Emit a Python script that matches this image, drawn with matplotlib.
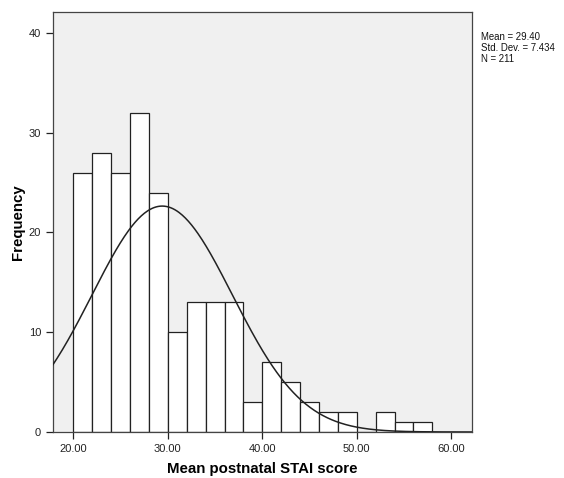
import numpy as np
import matplotlib
matplotlib.use("Agg")
import matplotlib.pyplot as plt

plt.rcParams['font.family'] = ['Liberation Sans', 'DejaVu Sans']

# Histogram bins (width 2.00) and frequencies
bin_edges = [20, 22, 24, 26, 28, 30, 32, 34, 36, 38, 40, 42, 44, 46, 48, 50, 52, 54, 56, 58]
counts = [26, 28, 26, 32, 24, 10, 13, 13, 13, 3, 7, 5, 3, 2, 2, 0, 2, 1, 1]

mean = 29.40
std_dev = 7.434
n = 211

x_ticks = [20, 30, 40, 50, 60]
x_tick_labels = ["20.00", "30.00", "40.00", "50.00", "60.00"]
y_ticks = [0, 10, 20, 30, 40]

fig = plt.figure(figsize=(5.64, 4.78), dpi=100)
ax = fig.add_axes([53/564, 46/478, (472-53)/564, (432-12)/478])
ax.set_facecolor('#F0F0F0')

lefts = np.array(bin_edges[:-1])
widths = np.diff(bin_edges)
ax.bar(lefts, counts, width=widths, align='edge', color='white',
       edgecolor='#222222', linewidth=0.9, zorder=2)

# Normal curve scaled to the histogram
xs = np.linspace(17.84, 62.2, 400)
bw = widths[0]
ys = n * bw / (std_dev * np.sqrt(2 * np.pi)) * np.exp(-0.5 * ((xs - mean) / std_dev) ** 2)
ax.plot(xs, ys, color='#222222', linewidth=1.1, zorder=3)

ax.set_xlim(17.84, 62.2)
ax.set_ylim(0, 42.1)
ax.set_xticks(x_ticks)
ax.set_xticklabels(x_tick_labels)
ax.set_yticks(y_ticks)
ax.tick_params(axis='both', labelsize=8, length=5, width=0.9, color='#222222', labelcolor='#222222', direction='out')
for s in ax.spines.values():
    s.set_color('#444444')
    s.set_linewidth(0.9)

ax.set_xlabel('Mean postnatal STAI score', fontsize=10.8, fontweight='bold', labelpad=6)
ax.set_ylabel('Frequency', fontsize=10.8, fontweight='bold', labelpad=3)

fig.text(481/564, 1 - 32/478, f"Mean = {mean:.2f}\nStd. Dev. = {std_dev:.3f}\nN = {n}",
         fontsize=6.9, va='top', ha='left', linespacing=1.12, color='#111111')

fig.savefig('out.png', dpi=100, facecolor='white')
